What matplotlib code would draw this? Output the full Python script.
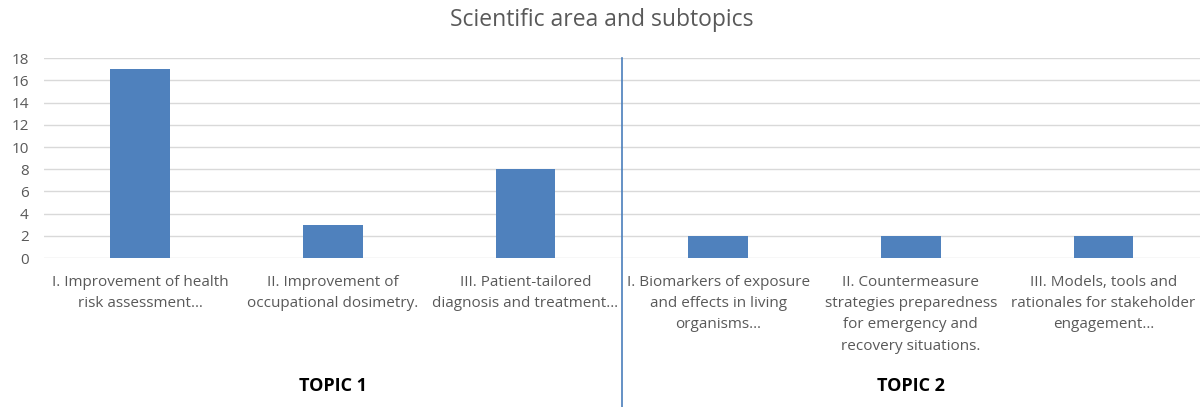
import numpy as np
import matplotlib as mpl
mpl.use('Agg')
import matplotlib.pyplot as plt
import matplotlib.transforms as mtrans

subtopics = ["I. Improvement of health\nrisk assessment\u2026",
             "II. Improvement of\noccupational dosimetry.",
             "III. Patient-tailored\ndiagnosis and treatment\u2026",
             "I. Biomarkers of exposure\nand effects in living\norganisms\u2026",
             "II. Countermeasure\nstrategies preparedness\nfor emergency and\nrecovery situations.",
             "III. Models, tools and\nrationales for stakeholder\nengagement\u2026"]
counts = [17, 3, 8, 2, 2, 2]
topics = ["TOPIC 1", "TOPIC 2"]
topic_pos = [1, 4]

mpl.rcParams['font.family'] = 'Open Sans'
grey = '#595959'

fig = plt.figure(figsize=(12.04, 4.07), dpi=100)
ax = fig.add_axes([0.0365, 0.366, 0.960, 0.491])

x = np.arange(len(counts))
ax.bar(x, counts, width=0.31, color='#4f81bd', zorder=3)
ax.set_xlim(-0.5, len(counts) - 0.5)
ax.set_ylim(0, 18)
ax.set_yticks(np.arange(0, 19, 2))
ax.yaxis.grid(True, color='#d9d9d9', linewidth=1, zorder=0)
for s in ax.spines.values():
    s.set_visible(False)
ax.tick_params(length=0, colors=grey, labelsize=11)
ax.tick_params(axis='y', pad=11)
ax.tick_params(axis='x', pad=12)
ax.set_xticks(x)
ax.set_xticklabels(subtopics, fontsize=11, color=grey, linespacing=1.58, va='top')

# divider between the two topics
tr = mtrans.blended_transform_factory(ax.transData, ax.transAxes)
ax.plot([2.5, 2.5], [1, -0.76], transform=tr, color='#4a7ebb', lw=1.2, clip_on=False)

for t, p in zip(topics, topic_pos):
    ax.text(p, -0.64, t, transform=tr, ha='center', va='center',
            fontsize=13, fontweight='bold', color='black')

fig.suptitle("Scientific area and subtopics", y=0.951, va='center', fontsize=16.5, color=grey)
fig.savefig("out.png", dpi=100)
